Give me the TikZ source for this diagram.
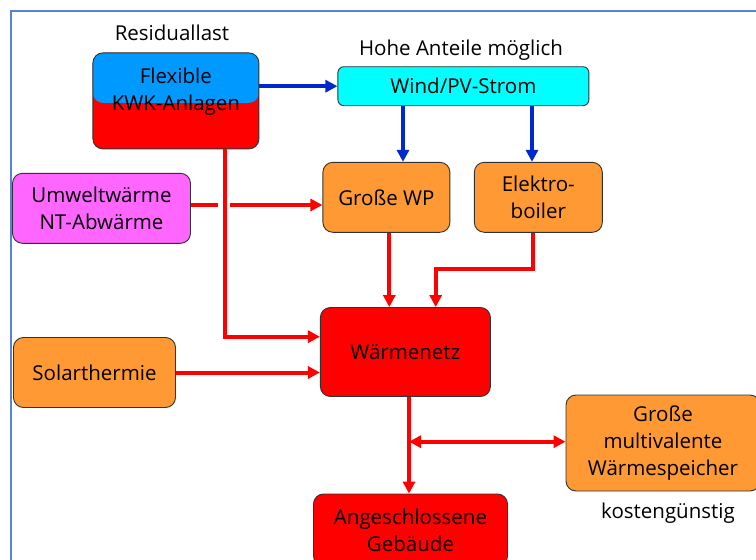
\documentclass[tikz,border=0pt]{standalone}
\usepackage{fontspec}
\setmainfont{Open Sans}
\usetikzlibrary{arrows.meta,calc}
\definecolor{kwkblue}{RGB}{0,153,255}
\definecolor{boxorange}{RGB}{255,153,51}
\definecolor{boxmagenta}{RGB}{255,102,255}
\definecolor{boxcyan}{RGB}{0,255,255}
\definecolor{darkblue}{RGB}{0,40,204}
\definecolor{framecol}{RGB}{90,130,210}
\definecolor{outline}{RGB}{50,50,50}
\tikzset{
  box/.style={draw=outline, line width=0.9pt, rounded corners=10pt, align=center,
    inner sep=0pt, font=\fontsize{20.5}{27}\selectfont, text=black},
  redarrow/.style={draw=red, line width=4pt, -{Triangle[length=12pt,width=12pt]}},
  redline/.style={draw=red, line width=4pt},
  bluearrow/.style={draw=darkblue, line width=4pt, -{Triangle[length=12pt,width=12pt]}},
  lbl/.style={font=\fontsize{20.5}{27}\selectfont, inner sep=0pt}
}
\begin{document}
\begin{tikzpicture}[x=1pt,y=-1pt]
\useasboundingbox (0,0) rectangle (756,560);
\begin{scope}
\clip (0,0) rectangle (756,560);
% frame
\draw[framecol, line width=1.2pt] (11,575) -- (11,11) -- (770,11);

% nodes
\node[box, fill=red, minimum width=166pt, minimum height=96pt,
  path picture={\fill[kwkblue] (path picture bounding box.north west) rectangle ($(path picture bounding box.north east)+(0,50)$);}]
  (kwk) at (175.9,100.9) {};
\node[lbl, anchor=base] (kwkt1) at (175.9,83) {Flexible};
\node[lbl, anchor=base] (kwkt2) at (175.9,110) {KWK-Anlagen};
\node[lbl] (resid) at (172,33) {Residuallast};

\node[box, fill=boxcyan, minimum width=251pt, minimum height=39pt, rounded corners=6pt] (wind) at (463.4,86.2) {Wind/PV-Strom};
\node[lbl] (hohe) at (461,50) {Hohe Anteile möglich};

\node[box, fill=boxmagenta, minimum width=178pt, minimum height=70pt] (umw) at (101.5,208.3) {Umweltwärme\\NT-Abwärme};
\node[box, fill=boxorange, minimum width=127pt, minimum height=70pt] (wp) at (386.4,197.3) {Große WP};
\node[box, fill=boxorange, minimum width=128pt, minimum height=70pt] (eb) at (538.3,197.3) {Elektro-\\boiler};

\node[box, fill=red, minimum width=170pt, minimum height=89pt] (wn) at (405.4,352) {Wärmenetz};
\node[box, fill=boxorange, minimum width=162pt, minimum height=70pt] (sol) at (94.5,372.5) {Solarthermie};
\node[box, fill=red, minimum width=194pt, minimum height=72pt] (ang) at (410.5,530) {Angeschlossene\\Gebäude};
\node[box, fill=boxorange, minimum width=194pt, minimum height=96pt] (sp) at (663,443) {Große\\multivalente\\Wärmespeicher};
\node[lbl] (kost) at (668,513) {kostengünstig};

% helper coordinates
\coordinate (w1) at (403,0);
\coordinate (w2) at (532,0);
\coordinate (ja) at (218,205);
\coordinate (jb) at (230,205);
\coordinate (kx) at (225,336.7);
\coordinate (wpx) at (389.3,0);
\coordinate (e1) at (532.7,269);
\coordinate (e2) at (435.7,269);
\coordinate (dn) at (409,441.7);

% blue connectors
\draw[bluearrow] (kwk.east |- wind.west) -- (wind.west);
\draw[bluearrow] (wind.south -| w1) -- (wp.north -| w1);
\draw[bluearrow] (wind.south -| w2) -- (eb.north -| w2);

% red connectors
\draw[redarrow] (kwk.south -| kx) -- (kx) -- (wn.west |- kx);
\draw[redline] (umw.east |- ja) -- (ja);
\draw[redarrow] (jb) -- (wp.west |- jb);
\draw[redarrow] (sol.east) -- (wn.west |- sol.east);
\draw[redarrow] (wp.south -| wpx) -- (wn.north -| wpx);
\draw[redarrow] (eb.south -| e1) -- (e1) -- (e2) -- (wn.north -| e2);
\draw[redarrow] (wn.south -| dn) -- (ang.north -| dn);
\draw[draw=red, line width=4pt, {Triangle[length=12pt,width=12pt]}-{Triangle[length=12pt,width=12pt]}] (dn) -- (sp.west |- dn);
\end{scope}
\end{tikzpicture}
\end{document}
